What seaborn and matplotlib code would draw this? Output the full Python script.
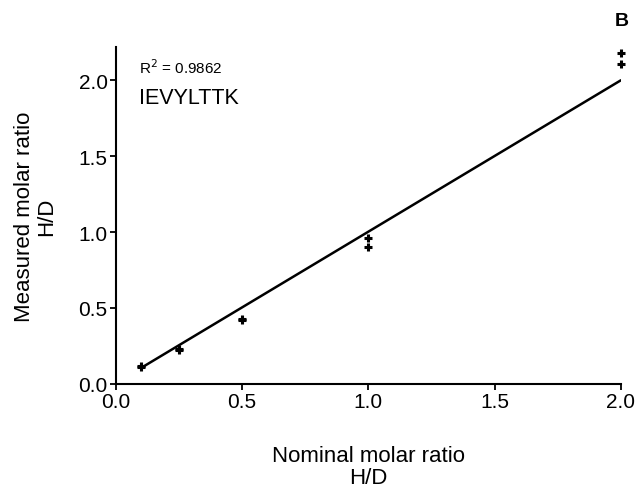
import numpy as np
import pandas as pd
import matplotlib
matplotlib.use('Agg')
import matplotlib.pyplot as plt
import seaborn as sns

# measured replicates (two per nominal ratio)
nominal  = [0.1, 0.1, 0.25, 0.25, 0.5, 0.5, 1.0, 1.0, 2.0, 2.0]
measured = [0.12, 0.11, 0.23, 0.22, 0.42, 0.43, 0.96, 0.90, 2.18, 2.11]

# regression line end points
fit_x = [0.1, 2.0]
fit_y = [0.105, 2.0]

r2_text = 'R$^2$ = 0.9862'
peptide = 'IEVYLTTK'

sns.set_style('ticks')
plt.rcParams['font.family'] = ['Liberation Sans', 'DejaVu Sans']
plt.rcParams['text.color'] = 'black'
plt.rcParams['axes.labelcolor'] = 'black'

df = pd.DataFrame({'nominal': nominal, 'measured': measured})
dfit = pd.DataFrame({'x': fit_x, 'y': fit_y})

fig = plt.figure(figsize=(6.44, 4.89), dpi=100)
ax = fig.add_axes([0.180, 0.213, 0.784, 0.689])

sns.lineplot(data=dfit, x='x', y='y', ax=ax, color='black', linewidth=1.8)
sns.scatterplot(data=df, x='nominal', y='measured', ax=ax, marker='+',
                color='black', s=28, linewidth=2.2, clip_on=False, zorder=5)

ax.set_xlim(0, 2.0)
ax.set_ylim(0, 2.22)
ax.set_xticks([0.0, 0.5, 1.0, 1.5, 2.0])
ax.set_yticks([0.0, 0.5, 1.0, 1.5, 2.0])
ax.xaxis.set_major_formatter(matplotlib.ticker.FormatStrFormatter('%.1f'))
ax.yaxis.set_major_formatter(matplotlib.ticker.FormatStrFormatter('%.1f'))
ax.tick_params(axis='both', labelsize=15, length=4, width=1.3, color='black', labelcolor='black', pad=2)
for sp in ['top', 'right']:
    ax.spines[sp].set_visible(False)
for sp in ['left', 'bottom']:
    ax.spines[sp].set_linewidth(1.5)
    ax.spines[sp].set_color('black')

ax.set_xlabel('Nominal molar ratio\nH/D', fontsize=16, labelpad=24, linespacing=1.1)
ax.set_ylabel('Measured molar ratio\nH/D', fontsize=16, labelpad=15, linespacing=1.1)

ax.text(0.045, 0.94, r2_text, transform=ax.transAxes, fontsize=11, ha='left', va='center')
ax.text(0.045, 0.85, peptide, transform=ax.transAxes, fontsize=15.5, ha='left', va='center')
fig.text(0.966, 0.957, 'B', fontsize=14, fontweight='bold', ha='center', va='center')

fig.savefig('out.png', dpi=100)
